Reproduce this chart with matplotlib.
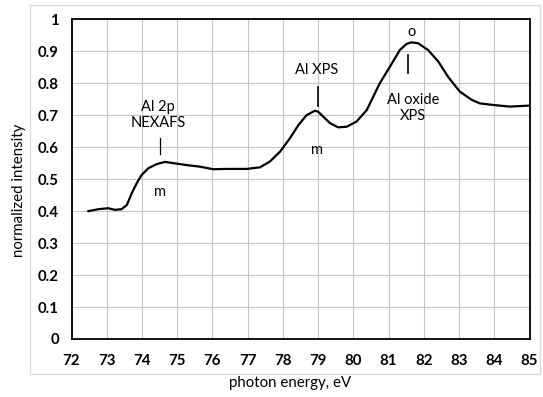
import matplotlib.pyplot as plt
from matplotlib.patches import Rectangle

plt.rcParams['font.family'] = ['Lato', 'DejaVu Sans']

# spectrum
energy = [72.48, 72.76, 73.04, 73.23, 73.42, 73.57, 73.71, 73.85, 73.99, 74.18,
          74.42, 74.65, 74.89, 75.27, 75.65, 76.02, 76.4, 76.97, 77.35, 77.63,
          77.92, 78.2, 78.44, 78.67, 78.91, 79.0, 79.15, 79.34, 79.57, 79.81,
          80.09, 80.38, 80.75, 81.04, 81.32, 81.51, 81.65, 81.84, 82.12, 82.41,
          82.69, 83.02, 83.36, 83.59, 83.97, 84.44, 85.0]
intensity = [0.400, 0.406, 0.409, 0.404, 0.406, 0.419, 0.456, 0.487, 0.513, 0.534,
             0.547, 0.554, 0.550, 0.544, 0.539, 0.531, 0.532, 0.532, 0.537, 0.555,
             0.586, 0.628, 0.669, 0.700, 0.714, 0.711, 0.695, 0.675, 0.662, 0.664,
             0.680, 0.716, 0.800, 0.852, 0.904, 0.923, 0.928, 0.925, 0.904, 0.868,
             0.820, 0.774, 0.748, 0.737, 0.732, 0.727, 0.730]

x_ticks = list(range(72, 86))
y_ticks = [0, 0.1, 0.2, 0.3, 0.4, 0.5, 0.6, 0.7, 0.8, 0.9, 1]
y_labels = ['0', '0.1', '0.2', '0.3', '0.4', '0.5', '0.6', '0.7', '0.8', '0.9', '1']

fig = plt.figure(figsize=(5.43, 3.97), dpi=100)
# light frame around the chart area
fig.patches.append(Rectangle((30 / 543, 1 - 374 / 397), 510 / 543, 369 / 397,
                             transform=fig.transFigure, fill=False,
                             edgecolor='#dadada', linewidth=1))
ax = fig.add_axes([71.5 / 543, 1 - 339 / 397, 458 / 543, 319.7 / 397])

ax.plot(energy, intensity, color='black', linewidth=1.6, solid_joinstyle='round')

ax.set_xlim(72, 85)
ax.set_ylim(0, 1)
ax.set_xticks(x_ticks)
ax.set_yticks(y_ticks)
ax.set_yticklabels(y_labels)
ax.tick_params(length=0, labelsize=10.8)
ax.tick_params(axis='x', pad=11)
ax.tick_params(axis='y', pad=9)
for lab in ax.get_xticklabels() + ax.get_yticklabels():
    lab.set_fontweight('bold')
ax.grid(True, color='#c4c4c4', linewidth=0.8)
ax.set_axisbelow(True)
for s in ax.spines.values():
    s.set_linewidth(1.3)
    s.set_color('black')

# annotations
fs = 10.5
ax.text(74.46, 0.70, 'Al 2p\nNEXAFS', ha='center', va='center', fontsize=fs, linespacing=1.2)
ax.plot([74.51, 74.51], [0.579, 0.629], color='black', linewidth=0.9)
ax.text(74.51, 0.46, 'm', ha='center', va='center', fontsize=fs)

ax.text(78.96, 0.841, 'Al XPS', ha='center', va='center', fontsize=fs)
ax.plot([79.0, 79.0], [0.729, 0.789], color='black', linewidth=1.2)
ax.text(78.96, 0.591, 'm', ha='center', va='center', fontsize=fs)

ax.text(81.65, 0.961, 'o', ha='center', va='center', fontsize=fs)
ax.plot([81.56, 81.56], [0.833, 0.888], color='black', linewidth=1.2)
ax.text(81.7, 0.723, 'Al oxide\nXPS', ha='center', va='center', fontsize=fs, linespacing=1.2)

fig.text(290 / 543, 1 - 383 / 397, 'photon energy, eV', ha='center', va='center', fontsize=10.8)
fig.text(19 / 543, 1 - 190 / 397, 'normalized intensity', ha='center', va='center',
         rotation=90, fontsize=10.8)

fig.savefig('out.png', dpi=100)
